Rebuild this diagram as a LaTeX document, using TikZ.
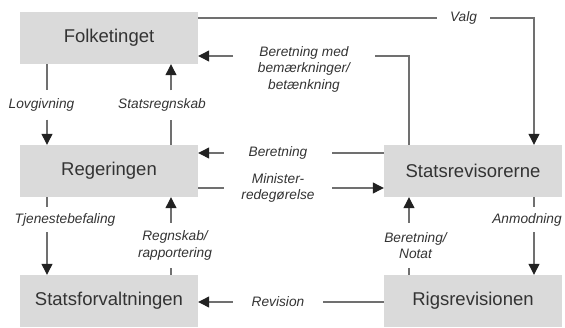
\documentclass[tikz,border=0pt]{standalone}
\usepackage{fontspec}
\setmainfont{Liberation Sans}
\usetikzlibrary{arrows.meta}
\definecolor{boxfill}{HTML}{DADADA}
\definecolor{linec}{HTML}{707070}
\definecolor{boxtext}{HTML}{333333}
\definecolor{headc}{HTML}{222222}
\begin{document}
\begin{tikzpicture}[x=1pt,y=-1pt,
  box/.style={fill=boxfill,minimum width=178pt,minimum height=52pt,inner sep=0pt,
    text=boxtext,font=\fontsize{18.5}{22}\selectfont},
  lab/.style={font=\fontsize{13.7}{16.5}\selectfont\itshape,text=boxtext,inner sep=0pt,align=center},
  conn/.style={draw=linec,line width=1.2pt},
  arr/.style={conn,-{Triangle[length=11pt,width=11pt,fill=headc,color=headc]}}
]
\useasboundingbox (0,0) rectangle (565,327);
% boxes
\node[box] (folk) at (109,38) {Folketinget};
\node[box] (reg)  at (109,171) {Regeringen};
\node[box] (sf)   at (109,301) {Statsforvaltningen};
\node[box] (srev) at (473,171) {Statsrevisorerne};
\node[box] (rigs) at (473,301) {Rigsrevisionen};

% line positions
\coordinate (xa) at (47,0);
\coordinate (xb) at (171,0);
\coordinate (xc) at (409,0);
\coordinate (xd) at (534,0);

% vertical labels
\node[lab,minimum height=29pt] (lov) at (41.5,105) {Lovgivning};
\node[lab,minimum height=29pt] (sreg) at (162,105) {Statsregnskab};
\node[lab,minimum height=25pt] (tj) at (65,219.5) {Tjenestebefaling};
\node[lab,minimum height=45pt] (regn) at (175,245.5) {Regnskab/\\rapportering};
\node[lab,minimum height=45pt] (bn) at (415.5,245.5) {Beretning/\\Notat};
\node[lab,minimum height=25pt] (anm) at (527,219.5) {Anmodning};

% horizontal labels
\node[lab,minimum width=53pt] (valg) at (463.5,18) {Valg};
\node[lab,minimum width=108pt] (ber) at (278,153) {Beretning};
\node[lab,minimum width=108pt] (min) at (278,188) {Minister-\\redegørelse};
\node[lab,minimum width=90pt] (rev) at (278,302) {Revision};
\node[lab,anchor=north] (bm) at (304,46) {Beretning med\\bemærkninger/\\betænkning};
\coordinate (bmR) at (375,56);
\coordinate (bmL) at (233,56);

% vertical connectors
\draw[conn] (folk.south -| xa) -- (lov.north -| xa);
\draw[arr] (lov.south -| xa) -- (reg.north -| xa);
\draw[conn] (reg.north -| xb) -- (sreg.south -| xb);
\draw[arr] (sreg.north -| xb) -- (folk.south -| xb);
\draw[conn] (reg.south -| xa) -- (tj.north -| xa);
\draw[arr] (tj.south -| xa) -- (sf.north -| xa);
\draw[conn] (sf.north -| xb) -- (regn.south -| xb);
\draw[arr] (regn.north -| xb) -- (reg.south -| xb);
\draw[conn] (rigs.north -| xc) -- (bn.south -| xc);
\draw[arr] (bn.north -| xc) -- (srev.south -| xc);
\draw[conn] (srev.south -| xd) -- (anm.north -| xd);
\draw[arr] (anm.south -| xd) -- (rigs.north -| xd);

% horizontal connectors
\draw[conn] (folk.east |- valg) -- (valg.west);
\draw[arr] (valg.east) -| (srev.north -| xd);
\draw[conn] (srev.north -| xc) |- (bmR);
\draw[arr] (bmL) -- (folk.east |- bmL);
\draw[conn] (srev.west |- ber) -- (ber.east);
\draw[arr] (ber.west) -- (reg.east |- ber);
\draw[conn] (reg.east |- min) -- (min.west);
\draw[arr] (min.east) -- (srev.west |- min);
\draw[conn] (rigs.west |- rev) -- (rev.east);
\draw[arr] (rev.west) -- (sf.east |- rev);
\end{tikzpicture}
\end{document}
